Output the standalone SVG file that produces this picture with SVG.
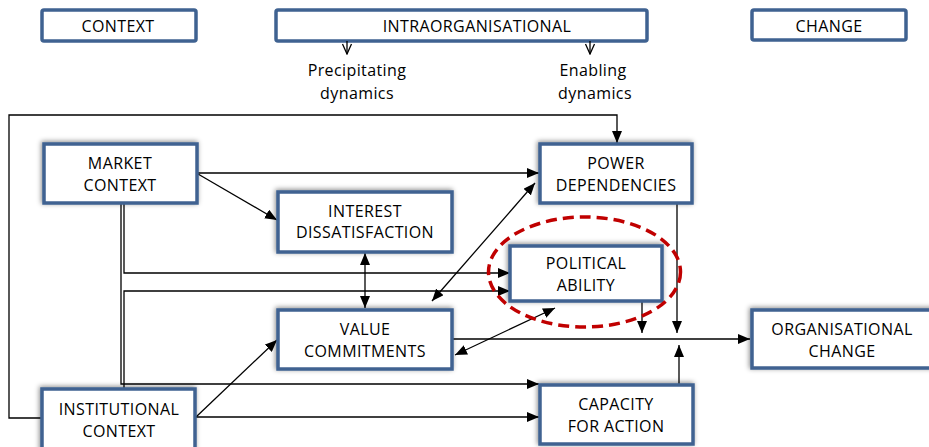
<svg xmlns="http://www.w3.org/2000/svg" width="929" height="447" viewBox="0 0 929 447">
<style>
  text { font-family: "Open Sans", "Liberation Sans", sans-serif; font-size: 16px; fill: #000; text-anchor: middle; letter-spacing: 0.4px; }
  .hdr { fill: #fff; stroke: #3F6291; stroke-width: 3.5; }
  .node { fill: #fff; stroke: #3F6291; stroke-width: 3.5; filter: url(#sh); }
  .c { fill: none; stroke: #000; stroke-width: 1.3; }
  .a { marker-end: url(#ah); }
  .b { marker-start: url(#ahs); marker-end: url(#ah); }
  .v { marker-end: url(#vh); }
  .ell { fill: none; stroke: #C00000; stroke-width: 3.5; stroke-dasharray: 11 6; }
</style>
<defs>
  <filter id="sh" x="-20%" y="-30%" width="140%" height="160%">
    <feDropShadow dx="-1" dy="-1" stdDeviation="2.5" flood-color="#000" flood-opacity="0.45"/>
  </filter>
  <marker id="ah" markerUnits="userSpaceOnUse" markerWidth="12" markerHeight="10" viewBox="0 0 12 10" refX="12" refY="5" orient="auto">
    <path d="M0,0 L12,5 L0,10 Z" fill="#000"/>
  </marker>
  <marker id="ahs" markerUnits="userSpaceOnUse" markerWidth="12" markerHeight="10" viewBox="0 0 12 10" refX="0" refY="5" orient="auto">
    <path d="M12,0 L0,5 L12,10 Z" fill="#000"/>
  </marker>
  <marker id="vh" markerUnits="userSpaceOnUse" markerWidth="12" markerHeight="12" viewBox="0 0 12 12" refX="11" refY="6" orient="auto">
    <path d="M1,1.5 L11,6 L1,10.5" fill="none" stroke="#000" stroke-width="1.3"/>
  </marker>
</defs>

<g id="header-context"><rect class="hdr" x="42" y="10" width="154" height="31" rx="2"/><text x="118" y="32">CONTEXT</text></g>
<g id="header-intra"><rect class="hdr" x="276" y="10" width="371" height="31" rx="2"/><text x="477" y="32">INTRAORGANISATIONAL</text></g>
<g id="header-change"><rect class="hdr" x="752" y="10" width="154" height="30" rx="2"/><text x="829" y="32">CHANGE</text></g>
<g id="label-precipitating"><text x="357" y="76">Precipitating</text><text x="357" y="99">dynamics</text></g>
<g id="label-enabling"><text x="593" y="76">Enabling</text><text x="595" y="99">dynamics</text></g>

<g id="connectors">
  <path class="c v" d="M347,41 V54"/>
  <path class="c v" d="M590,41 V54"/>
  <path class="c a" d="M41,418 H9 V115 H617 V143"/>
  <path class="c a" d="M198,173 H539"/>
  <path class="c a" d="M198,174 L277,220"/>
  <path class="c a" d="M124,204 V273 H510"/>
  <path class="c a" d="M121,204 V384 H539"/>
  <path class="c a" d="M124,388 V291 H510"/>
  <path class="c a" d="M196,417 L277,340"/>
  <path class="c a" d="M196,417 H539"/>
  <path class="c b" d="M365,253 V308"/>
  <path class="c b" d="M432,301 L535,183"/>
  <path class="c b" d="M455,355 L555,308"/>
  <path class="c a" d="M453,339 H750"/>
  <path class="c a" d="M677,204 V333"/>
  <path class="c a" d="M642,302 V333"/>
  <path class="c a" d="M679,384 V345"/>
</g>

<g id="market"><rect class="node" x="44" y="144" width="153" height="59"/><text x="120" y="169">MARKET</text><text x="120" y="191">CONTEXT</text></g>
<g id="interest"><rect class="node" x="278" y="192" width="174" height="60"/><text x="365" y="217">INTEREST</text><text x="365" y="238">DISSATISFACTION</text></g>
<g id="power"><rect class="node" x="540" y="144" width="152" height="59"/><text x="616" y="169">POWER</text><text x="616" y="191">DEPENDENCIES</text></g>
<g id="political"><rect class="node" x="510" y="246" width="152" height="55"/><text x="586" y="269">POLITICAL</text><text x="586" y="291">ABILITY</text></g>
<g id="value"><rect class="node" x="278" y="310" width="174" height="59"/><text x="365" y="335">VALUE</text><text x="365" y="357">COMMITMENTS</text></g>
<g id="org-change"><rect class="node" x="752" y="310" width="185" height="58"/><text x="842" y="335">ORGANISATIONAL</text><text x="842" y="357">CHANGE</text></g>
<g id="institutional"><rect class="node" x="42" y="389" width="153" height="62"/><text x="119" y="415">INSTITUTIONAL</text><text x="119" y="437">CONTEXT</text></g>
<g id="capacity"><rect class="node" x="540" y="385" width="153" height="59"/><text x="616" y="410">CAPACITY</text><text x="616" y="432">FOR ACTION</text></g>

<g id="highlight"><ellipse class="ell" cx="584.5" cy="272" rx="96" ry="55"/></g>
</svg>
